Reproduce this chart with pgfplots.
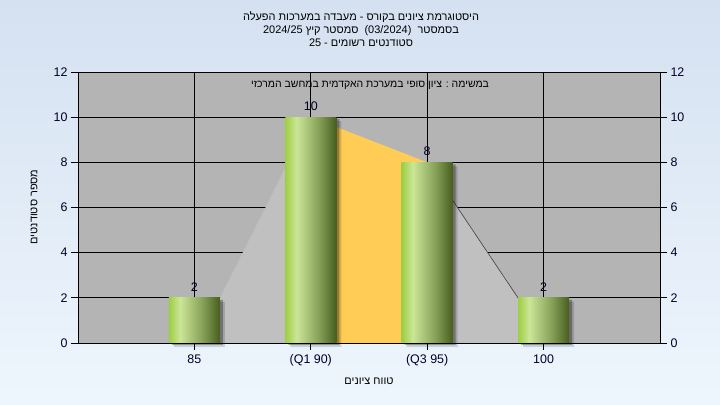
\documentclass[border=0pt]{standalone}
\usepackage{pgfplots}
\pgfplotsset{compat=1.18}
\usepackage{fontspec}
\setmainfont{Liberation Sans}
\newfontfamily\hebfont[Script=Hebrew]{Liberation Sans}
\TeXXeTstate=1
\definecolor{bgtop}{HTML}{D5E1F1}
\definecolor{bgbot}{HTML}{EEF6FD}
\definecolor{plotbg}{HTML}{B4B4B4}
\definecolor{areagray}{HTML}{C0C0C0}
\definecolor{areayel}{HTML}{FFCC55}
\definecolor{bL}{HTML}{9ECE44}
\definecolor{bM}{HTML}{CBE697}
\definecolor{bD}{HTML}{86A058}
\definecolor{bR}{HTML}{475E1E}
\pgfdeclarehorizontalshading{barshade}{100bp}{color(0bp)=(bL); color(25bp)=(bL); color(36bp)=(bM); color(58bp)=(bD); color(75bp)=(bR); color(100bp)=(bR)}
\pgfplotsset{
  mybar/.style={ybar, bar width=51bp, bar shift=0pt, shading=barshade, draw=none,
    nodes near coords, every node near coord/.append style={font=\fontsize{12.5}{14}\selectfont, text=black!85!blue, anchor=south, yshift=3bp}},
}
\begin{document}
\begin{tikzpicture}
\fill[top color=bgtop, bottom color=bgbot] (0,0) rectangle (720bp,405bp);
\begin{axis}[
  at={(78bp,62bp)}, anchor=south west,
  scale only axis, width=582bp, height=271bp,
  xmin=-1, xmax=4, ymin=0, ymax=12,
  xtick={0,1,2,3}, xticklabels={85,(Q1 90),(Q3 95),100},
  ytick={0,2,4,6,8,10,12},
  xtick pos=bottom, ytick pos=left,
  tick align=outside, major tick length=7bp,
  grid=major, grid style={black, line width=0.8bp},
  axis line style={black, line width=0.9bp},
  tick style={black, line width=0.8bp},
  axis background/.style={fill=plotbg},
  /pgf/number format/assume math mode=true,
  ticklabel style={font=\fontsize{12.5}{14}\selectfont, text=black!85!blue},
  xticklabel style={yshift=-1bp},
  clip=false,
]
\addplot[fill=areagray, draw=none] coordinates {(0.22,2) (1,10) (2,8) (2.78,2)} \closedcycle;
\addplot[fill=areayel, draw=none] coordinates {(1,10) (2,8)} \closedcycle;
\addplot[gray!50!black, line width=0.6bp] coordinates {(2,8) (2.78,2)};
% shadows
\addplot[ybar, bar width=51bp, bar shift=0pt, fill=black, fill opacity=0.15, draw=none, xshift=5bp, yshift=-4bp] coordinates {(0,2) (1,10) (2,8) (3,2)};
\addplot[ybar, bar width=51bp, bar shift=0pt, fill=black, fill opacity=0.3, draw=none, xshift=3bp, yshift=-2bp] coordinates {(0,2) (1,10) (2,8) (3,2)};
% bars, one plot each so each bar gets its own shading
\addplot[mybar] coordinates {(0,2)};
\addplot[mybar] coordinates {(1,10)};
\addplot[mybar] coordinates {(2,8)};
\addplot[mybar] coordinates {(3,2)};
\end{axis}
\begin{axis}[
  at={(78bp,62bp)}, anchor=south west,
  scale only axis, width=582bp, height=271bp,
  xmin=-1, xmax=4, ymin=0, ymax=12,
  ytick={0,2,4,6,8,10,12},
  axis y line*=right, axis x line=none,
  tick align=outside, major tick length=7bp,
  axis line style={black, line width=0.9bp},
  tick style={black, line width=0.8bp},
  /pgf/number format/assume math mode=true,
  ticklabel style={font=\fontsize{12.5}{14}\selectfont, text=black!85!blue},
]
\addplot[draw=none] coordinates {(0,0)};
\end{axis}
\node[font=\hebfont\fontsize{11}{13}\selectfont, align=center] at (361bp,388bp) {\beginR היסטוגרמת ציונים בקורס - מעבדה במערכות הפעלה\endR};
\node[font=\hebfont\fontsize{11}{13}\selectfont] at (361bp,374.5bp) {\beginR בסמסטר \ \beginL(03/2024)\endL{} \ סמסטר קיץ \beginL2024/25\endL\endR};
\node[font=\hebfont\fontsize{11}{13}\selectfont] at (361bp,362bp) {\beginR סטודנטים רשומים - \beginL25\endL\endR};
\node[font=\hebfont\fontsize{10.5}{13}\selectfont] at (370bp,319.5bp) {\beginR במשימה : ציון סופי במערכת האקדמית במחשב המרכזי\endR};
\node[font=\hebfont\fontsize{11}{13}\selectfont] at (369bp,24bp) {\beginR טווח ציונים\endR};
\node[font=\hebfont\fontsize{11}{13}\selectfont, rotate=90] at (34bp,198bp) {\beginR מספר סטודנטים\endR};
\pgfresetboundingbox
\useasboundingbox (0,0) rectangle (720bp,405bp);
\end{tikzpicture}
\end{document}
